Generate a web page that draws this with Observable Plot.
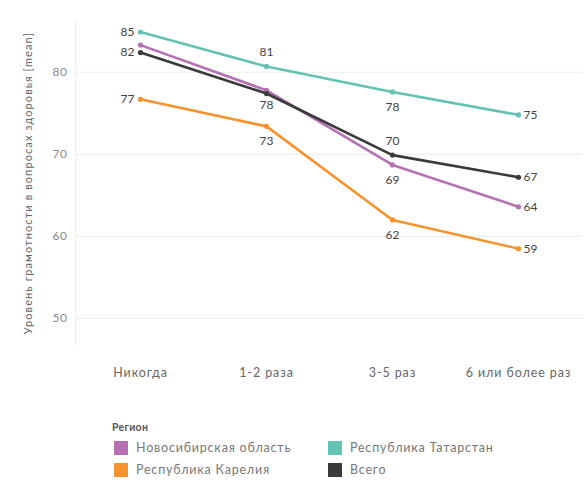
<!DOCTYPE html>
<html><head><meta charset="utf-8">
<script src="https://cdn.jsdelivr.net/npm/d3@7"></script>
<script src="https://cdn.jsdelivr.net/npm/@observablehq/plot@0.6"></script>
<style>
body{margin:0;background:#fff;font-family:Lato,"Open Sans",sans-serif;}
#legend{margin-left:112px;margin-top:31px;font-size:12.5px;color:#777;letter-spacing:0.8px;}
#legend .t{font-weight:bold;color:#555;font-size:10.5px;letter-spacing:0.3px;margin-bottom:7px;}
#legend .grid{display:grid;grid-template-columns:214px 220px;row-gap:7px;}
#legend .it{display:flex;align-items:center;height:15px;}
#legend .sw{width:14px;height:14px;margin-right:8px;margin-left:2px;}
g[aria-label="x-axis tick label"] text{letter-spacing:0.9px;}
g[aria-label="y-axis tick label"] text{letter-spacing:0.5px;}
</style></head>
<body>
<div id="chart"></div>
<div id="legend"></div>
<script>
const categories = ["Никогда", "1-2 раза", "3-5 раз", "6 или более раз"];
const series = ["Новосибирская область", "Республика Татарстан", "Республика Карелия", "Всего"];
const novosibirsk = [83.3, 77.8, 68.7, 63.6];
const tatarstan = [84.9, 80.7, 77.6, 74.8];
const karelia = [76.7, 73.4, 62.0, 58.5];
const vsego = [82.4, 77.4, 69.9, 67.2];
const colors = ["#b571b3", "#64c2b3", "#f7922c", "#3a3a3a"];
const yTicks = [50, 60, 70, 80];

const valuesBySeries = [novosibirsk, tatarstan, karelia, vsego];
const data = [];
series.forEach((s, i) => categories.forEach((c, j) => data.push({series: s, cat: c, value: valuesBySeries[i][j], si: i, ci: j})));

// label placement (styling, not data)
function placement(d) {
  if (d.ci === 0) return d.si === 0 ? "hide" : "left";
  if (d.ci === 3) return "right";
  if (d.ci === 1) { if (d.si === 3) return "hide"; return d.si === 1 ? "above" : "below"; }
  return d.si === 3 ? "above" : "below";
}
const lab = p => data.filter(d => placement(d) === p);
const labStyle = {x: "cat", y: "value", text: d => d3.format(".0f")(d.value), fill: "#444", fontSize: 12, fontFamily: "Lato, sans-serif"};

const chart = Plot.plot({
  width: 587, height: 390,
  marginLeft: 75, marginRight: 5, marginTop: 20, marginBottom: 45,
  style: {fontFamily: "Lato, sans-serif", background: "#fff"},
  x: {type: "point", domain: categories, padding: 0.5},
  y: {domain: [46.7, 86.3]},
  color: {domain: series, range: colors},
  marks: [
    Plot.gridY(yTicks, {stroke: "#ebebeb", strokeOpacity: 1}),
    Plot.frame({anchor: "left", stroke: "#efefef"}),
    Plot.axisY(yTicks, {tickSize: 0, tickPadding: 8, fontSize: 12, color: "#8a8a8a", label: null}),
    Plot.axisY([], {tickSize: 0, fontSize: 11, color: "#666", label: "Уровень грамотности в вопросах здоровья [mean]", labelAnchor: "center", labelOffset: 51, labelArrow: "none"}),
    Plot.axisX({tickSize: 0, tickPadding: 23, fontSize: 12.5, color: "#666", label: null}),
    Plot.line(data, {x: "cat", y: "value", z: "series", stroke: "series", strokeWidth: 2.6}),
    Plot.dot(data, {x: "cat", y: "value", fill: "series", r: 2.6}),
    Plot.text(lab("left"), {...labStyle, textAnchor: "end", dx: -6}),
    Plot.text(lab("right"), {...labStyle, textAnchor: "start", dx: 5}),
    Plot.text(lab("above"), {...labStyle, dy: -14}),
    Plot.text(lab("below"), {...labStyle, dy: 15})
  ]
});
document.getElementById("chart").append(chart);
chart.querySelectorAll('g[aria-label="y-axis label"] text').forEach(t => t.style.letterSpacing = "1.1px");

const order = [0, 1, 2, 3];
let html = '<div class="t">Регион</div><div class="grid">';
order.forEach(i => { html += `<div class="it"><span class="sw" style="background:${colors[i]}"></span>${series[i]}</div>`; });
html += '</div>';
document.getElementById("legend").innerHTML = html;
</script>
</body></html>
